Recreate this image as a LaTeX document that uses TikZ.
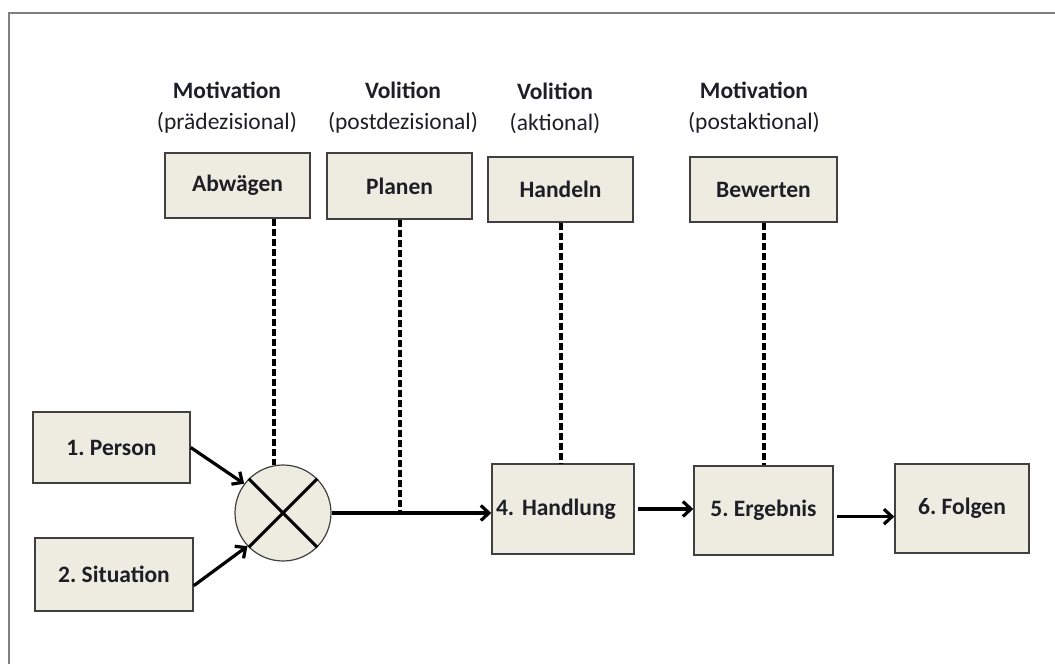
\documentclass[tikz,border=0pt]{standalone}
\usepackage{fontspec}
\setmainfont{Carlito}
\usepackage{tikz}
\usetikzlibrary{arrows.meta}
\definecolor{beige}{RGB}{238, 236, 225}
\definecolor{rahmen}{RGB}{64, 64, 64}
\definecolor{schrift}{RGB}{30, 30, 38}
\frenchspacing

\begin{document}
\begin{tikzpicture}[x=1pt, y=-1pt,
  font=\fontsize{23.5}{31}\selectfont,
  kasten/.style={draw=rahmen, fill=beige, line width=1.5pt, inner sep=0pt,
    text=schrift, font=\fontsize{23.5}{31}\selectfont\bfseries},
  phase/.style={align=center, text=schrift, inner sep=0pt},
  pfeil/.style={line width=3.2pt, -{Straight Barb[length=8pt, width=15pt]}},
  strich/.style={line width=4pt, dash pattern=on 7pt off 3pt}]

  \useasboundingbox (0, 0) rectangle (1055, 664);
  \draw[color=gray, line width=2pt] (9, 664) -- (9, 13) -- (1055, 13);

  % Phasen oben
  \node[phase] (phase1) at (227, 108) {\textbf{Motivation}\\(prädezisional)};
  \node[phase] (phase2) at (403, 108) {\textbf{Volition}\\(postdezisional)};
  \node[phase] (phase3) at (555, 108) {\textbf{Volition}\\(aktional)};
  \node[phase] (phase4) at (754, 108) {\textbf{Motivation}\\(postaktional)};

  \node[kasten, minimum width=145pt, minimum height=65pt] (abwaegen) at (237.5, 185.5) {Abwägen};
  \node[kasten, minimum width=145pt, minimum height=66pt] (planen) at (399.5, 186) {Planen};
  \node[kasten, minimum width=145pt, minimum height=65pt] (handeln) at (560.5, 189.5) {Handeln};
  \node[kasten, minimum width=147pt, minimum height=65pt] (bewerten) at (763.5, 189.5) {Bewerten};

  % Ablauf unten
  \node[kasten, minimum width=157pt, minimum height=71pt] (person) at (111.5, 447.5) {1. Person};
  \node[kasten, minimum width=158pt, minimum height=73pt] (situation) at (114, 574.5) {2. Situation};
  \node[circle, draw=rahmen, fill=beige, line width=1.2pt, minimum size=96pt] (kreuz) at (283, 513) {};
  \node[kasten, minimum width=142pt, minimum height=90pt, text width=134pt, align=left] (handlung) at (563, 509) {4. Handlung};
  \node[kasten, minimum width=139pt, minimum height=89pt] (ergebnis) at (763.5, 510.5) {5. Ergebnis};
  \node[kasten, minimum width=134pt, minimum height=89pt] (folgen) at (962, 508.5) {6. Folgen};

  \draw[line width=3pt] (kreuz.135) -- (kreuz.-45) (kreuz.45) -- (kreuz.225);

  \draw[strich] (kreuz.101 |- abwaegen.south) -- (kreuz.101);
  \draw[strich] (planen.south) -- (planen.south |- kreuz.east);
  \draw[strich] (handeln.south) -- (handeln.south |- handlung.north);
  \draw[strich] (bewerten.south) -- (bewerten.south |- ergebnis.north);

  \draw[pfeil] (person.east) -- (kreuz.143);
  \draw[pfeil] (situation.-8) -- (kreuz.223);
  \draw[pfeil] (kreuz.east) -- (kreuz.east -| handlung.west);
  \draw[pfeil, shorten <=3pt] (handlung.east) -- (handlung.east -| ergebnis.west);
  \draw[pfeil, shorten <=3pt] (ergebnis.-5) -- (ergebnis.-5 -| folgen.west);

\end{tikzpicture}
\end{document}
